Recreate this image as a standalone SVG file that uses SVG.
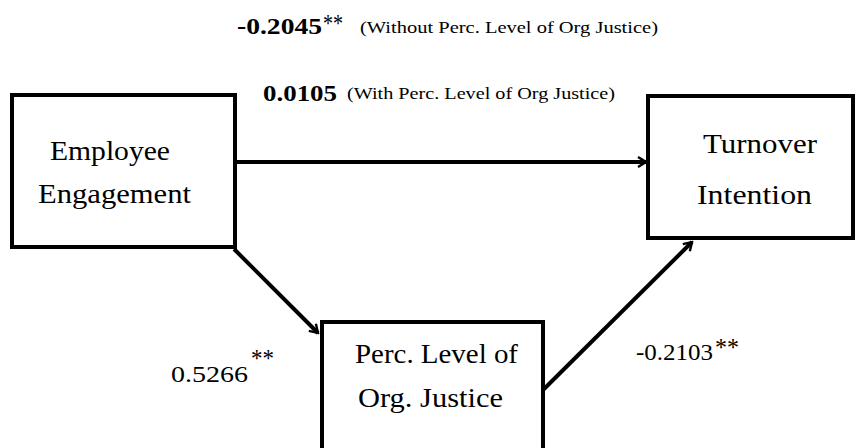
<svg xmlns="http://www.w3.org/2000/svg" width="855" height="448" viewBox="0 0 855 448">
<style>
text{font-family:'Liberation Serif','Times New Roman',serif;fill:#000}
.box{fill:#fff;stroke:#000;stroke-width:4}
.lbl{font-size:27px}
.coef{font-size:24px}
.top{font-size:24px;font-weight:bold}
.note{font-size:17px}
.sup{font-size:26px}
.edge{fill:none;stroke:#000;stroke-width:4}
</style>
<defs>
<marker id="arr" viewBox="0 0 12 12" refX="10" refY="6" markerWidth="12" markerHeight="12" markerUnits="userSpaceOnUse" orient="auto">
<path d="M2,1 L10,6 L2,11" fill="none" stroke="#000" stroke-width="2.4"/>
</marker>
</defs>
<rect width="855" height="448" fill="#fff"/>
<g id="node-employee-engagement">
<rect class="box" x="12" y="95" width="223" height="152"/>
<text class="lbl" x="50" y="160" textLength="120" lengthAdjust="spacingAndGlyphs">Employee</text>
<text class="lbl" x="38" y="203" textLength="153" lengthAdjust="spacingAndGlyphs">Engagement</text>
</g>
<g id="node-turnover-intention">
<rect class="box" x="648" y="96" width="205" height="142"/>
<text class="lbl" x="703" y="153" textLength="114" lengthAdjust="spacingAndGlyphs">Turnover</text>
<text class="lbl" x="697" y="204" textLength="115" lengthAdjust="spacingAndGlyphs">Intention</text>
</g>
<g id="node-org-justice">
<rect class="box" x="322" y="322" width="221" height="140"/>
<text class="lbl" x="355" y="363" textLength="163" lengthAdjust="spacingAndGlyphs">Perc. Level of</text>
<text class="lbl" x="358" y="407" textLength="145" lengthAdjust="spacingAndGlyphs">Org. Justice</text>
</g>
<g id="connectors">
<line class="edge" x1="235" y1="162" x2="646" y2="162" marker-end="url(#arr)"/>
<line class="edge" x1="234" y1="249" x2="318" y2="333" marker-end="url(#arr)"/>
<line class="edge" x1="543" y1="390" x2="692" y2="242" marker-end="url(#arr)"/>
</g>
<g id="labels">
<text class="top" x="237" y="34" textLength="85" lengthAdjust="spacingAndGlyphs">-0.2045</text>
<text class="sup" x="323" y="32" textLength="20" lengthAdjust="spacingAndGlyphs">**</text>
<text class="note" x="360" y="33" textLength="298" lengthAdjust="spacingAndGlyphs">(Without Perc. Level of Org Justice)</text>
<text class="top" x="263" y="101" textLength="74" lengthAdjust="spacingAndGlyphs">0.0105</text>
<text class="note" x="347" y="99" textLength="268" lengthAdjust="spacingAndGlyphs">(With Perc. Level of Org Justice)</text>
<text class="coef" x="171" y="382" textLength="77" lengthAdjust="spacingAndGlyphs">0.5266</text>
<text class="sup" x="251" y="367" textLength="23" lengthAdjust="spacingAndGlyphs">**</text>
<text class="coef" x="636" y="360" textLength="77" lengthAdjust="spacingAndGlyphs">-0.2103</text>
<text class="sup" x="715" y="356" textLength="24" lengthAdjust="spacingAndGlyphs">**</text>
</g>
</svg>
